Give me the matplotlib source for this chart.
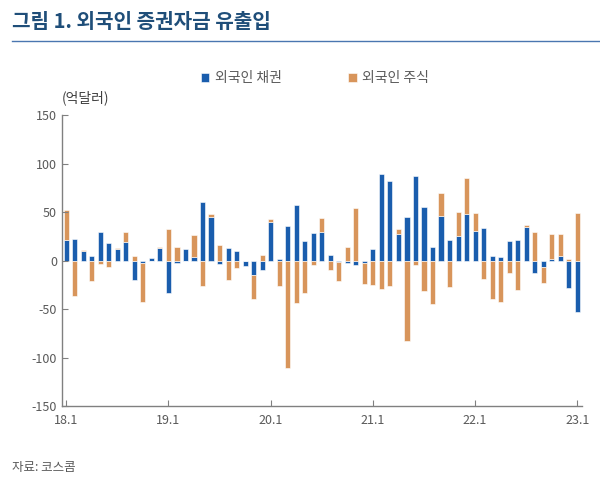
import numpy as np
import matplotlib
matplotlib.use('Agg')
import matplotlib.pyplot as plt
from matplotlib.lines import Line2D

plt.rcParams['font.family'] = ['Noto Sans CJK KR', 'DejaVu Sans']
plt.rcParams['axes.unicode_minus'] = False

# 월별 외국인 증권자금 유출입 (억달러), 18.1 ~ 23.1 (61개월)
bond = [21, 22, 10, 5, 30, 18, 12, 19, -20, -2, 3, 13,
        -33, -2, 12, 4, 60, 45, -3, 13.5, 10, -6, -15,
        -10, 40, 2, 36, 57.5, 20, 28.5, 29.5, 6, -1, -2, -5,
        -2, 12, 89, 82, 27, 45, 87, 55, 14.5, 45.5, 21, 25,
        48, 31, 34, 4.5, 3.5, 20, 21, 34.5, -13, -6.5, 2, 5, -28, -53]
stock = [31, -37, 1, -21, -4, -7, 1.5, 10, 5, -41, 0, 1.5,
         33, 14.5, 0, 22, -26, 3, 16.5, -20, -7.5, 0, -25,
         5.5, 3, -26.5, -111, -44, -33, -5, 14, -10, -20, 14, 54,
         -22, -25, -29, -26, 6, -83, -5, -31, -45, 24, -27, 25,
         37, 18, -19, -40, -43, -13, -30, 2, 29, -17, 25, 22, 2, 49]
tick_labels = ['18.1', '19.1', '20.1', '21.1', '22.1', '23.1']

c_bond = '#1a5dad'
c_stock = '#d8955b'

n = len(bond)
x = np.arange(n)
bond = np.array(bond, dtype=float)
stock = np.array(stock, dtype=float)
# 같은 부호면 채권 위(아래)에 쌓고, 다르면 0에서 시작
stock_bottom = np.where(np.sign(stock) == np.sign(bond), bond, 0)

fig = plt.figure(figsize=(6, 4.88), dpi=100)
ax = fig.add_axes([0.1033, 0.168, 0.866, 0.596])

ax.bar(x, bond, width=0.6, color=c_bond, edgecolor='white', linewidth=0.4, label='외국인 채권')
ax.bar(x, stock, width=0.6, bottom=stock_bottom, color=c_stock, edgecolor='white', linewidth=0.4, label='외국인 주식')

ax.set_ylim(-150, 150)
ax.set_xlim(-0.5, 60.5)
ax.set_yticks(range(-150, 151, 50))
ax.set_xticks(np.arange(0, n, 12))
ax.set_xticklabels(tick_labels)
for s in ['top', 'right']:
    ax.spines[s].set_visible(False)
for s in ['left', 'bottom']:
    ax.spines[s].set_color('#808080')
    ax.spines[s].set_linewidth(1.0)
ax.tick_params(direction='in', length=4, color='#808080', labelcolor='#595959', labelsize=9)
ax.tick_params(axis='x', pad=6)

fig.legend(loc='center', bbox_to_anchor=(0.525, 0.84), ncol=2, frameon=False,
           handlelength=0.6, handleheight=0.6, handletextpad=0.4,
           columnspacing=4.8, fontsize=10, labelcolor='#595959')

fig.text(0.103, 0.799, '(억달러)', fontsize=10, color='#404040', va='center', ha='left')
fig.text(0.02, 0.955, '그림 1. 외국인 증권자금 유출입', fontsize=14.5, fontweight='bold',
         color='#1f4e79', va='center', ha='left')
fig.add_artist(Line2D([0.02, 1.0], [0.916, 0.916], color='#4a76b0', linewidth=1.0))
fig.text(0.02, 0.043, '자료: 코스콤', fontsize=9, color='#595959', va='center', ha='left')

fig.savefig('out.png', dpi=100, facecolor='white')
